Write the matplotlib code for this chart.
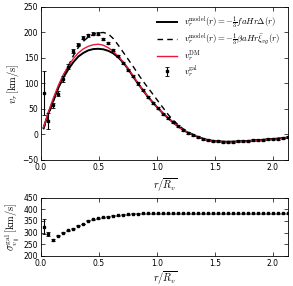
import matplotlib
matplotlib.use('Agg')
from matplotlib import pyplot as plt

plt.rcParams['mathtext.fontset'] = 'cm'
plt.rcParams['font.size'] = 5.5

# radial bins r / R_v
r = [0.0215, 0.0645, 0.1075, 0.1505, 0.1935, 0.2365, 0.2795, 0.3225, 0.3655, 0.4085,
     0.4515, 0.4945, 0.5375, 0.5805, 0.6235, 0.6665, 0.7095, 0.7525, 0.7955, 0.8385,
     0.8815, 0.9245, 0.9675, 1.0105, 1.0535, 1.0965, 1.1395, 1.1825, 1.2255, 1.2685,
     1.3115, 1.3545, 1.3975, 1.4405, 1.4835, 1.5265, 1.5695, 1.6125, 1.6555, 1.6985,
     1.7415, 1.7845, 1.8275, 1.8705, 1.9135, 1.9565, 1.9995, 2.0425, 2.0855, 2.1285]

# galaxy radial velocity and error (km/s)
v_gal = [82, 27, 57, 80, 109, 133, 164, 176, 190, 195,
         198, 198, 187, 179, 166, 153, 141, 127, 114, 100,
         87, 74, 62, 52, 41, 32, 24, 16, 8.5, 3,
         -1, -4.5, -8.5, -11, -12.5, -13.7, -14, -14, -14, -13.7,
         -13, -12.4, -11.7, -11, -10, -9, -8.5, -8, -7, -5.5]
v_gal_err = [43, 16, 5, 5, 6, 5, 4, 3, 3, 3,
             3, 2, 2, 2, 2, 2, 2, 2, 2, 2,
             2, 2, 2, 2, 2, 2, 2, 2, 2, 2,
             2, 2, 2, 2, 2, 2, 2, 2, 2, 2,
             2, 2, 2, 2, 2, 2, 2, 2, 2, 2]

# model curves
v_model_f = [13, 42, 68, 92, 112, 128, 142, 153, 160, 165,
             167.5, 168, 167, 164, 159, 151, 141, 128, 113, 99,
             86, 73, 62, 51, 41, 32, 23.5, 16, 9, 3.5,
             -1, -5, -8.5, -11, -12.5, -13.5, -14, -14.2, -14, -13.7,
             -13.2, -12.6, -12, -11.2, -10.4, -9.6, -8.8, -8, -7, -6]
v_model_beta = [10, 38, 65, 92, 115, 135, 155, 171, 183, 191,
                196, 199, 200, 197, 188, 175, 161, 147, 133, 118,
                104, 91, 78, 65, 52, 39, 28, 19, 11, 5,
                0, -4, -8, -11, -12.5, -13.5, -14, -14.2, -14, -13.7,
                -13.2, -12.6, -12, -11.2, -10.4, -9.6, -8.8, -8, -7, -6]
v_dm = [14, 45, 72, 97, 118, 134, 149, 160, 168, 173,
        176, 177, 175, 170, 163, 153, 142, 129, 114, 100,
        86, 73, 62, 51, 41, 32, 23.5, 16, 9, 3.5,
        -1, -5, -8.5, -11, -12.5, -13.5, -14, -14.2, -14, -13.7,
        -13.2, -12.6, -12, -11.2, -10.4, -9.6, -8.8, -8, -7, -6]

# galaxy velocity dispersion along line of sight (km/s)
sigma_gal = [326, 294, 269, 286, 300, 311, 317, 330, 337, 351,
             357, 361, 366, 369, 372, 374, 377, 378, 380, 381,
             382, 382, 383, 383, 383, 383, 383, 383, 383, 383,
             383, 383, 383, 383, 382, 382, 382, 382, 383, 382,
             382, 382, 382, 382, 382, 383, 383, 382, 382, 382]
sigma_err = [32, 10, 3, 2, 2, 2, 2, 2, 2, 2,
             2, 2, 2, 2, 2, 2, 2, 2, 2, 2,
             2, 2, 2, 2, 2, 2, 2, 2, 2, 2,
             2, 2, 2, 2, 2, 2, 2, 2, 2, 2,
             2, 2, 2, 2, 2, 2, 2, 2, 2, 2]

fig = plt.figure(figsize=(2.93, 2.86), dpi=100)
ax1 = fig.add_axes([0.140, 0.4406, 0.843, 0.535])
ax2 = fig.add_axes([0.140, 0.105, 0.843, 0.204])

ax1.plot(r, v_model_f, '-', color='black', lw=1.4,
         label=r'$v_r^{\rm model}(r) = -\frac{1}{3}faHr\Delta(r)$')
ax1.plot(r, v_model_beta, '--', color='black', lw=1.0, dashes=(4, 3),
         label=r'$v_r^{\rm model}(r) = -\frac{1}{3}\beta aHr\bar{\xi}_{vg}(r)$')
ax1.plot(r, v_dm, '-', color='#e8193c', lw=1.0, label=r'$v_r^{\rm DM}$')
ax1.errorbar(r, v_gal, yerr=v_gal_err, fmt='s', color='black', ms=1.8,
             elinewidth=0.8, capsize=1.3, capthick=0.6, label=r'$v_r^{\rm gal}$')

ax1.set_xlim(0, 2.13)
ax1.set_ylim(-50, 250)
ax1.set_yticks([-50, 0, 50, 100, 150, 200, 250])
ax1.set_ylabel(r'$v_r\,[\mathrm{km/s}]$', fontsize=7.5, labelpad=1)
ax1.set_xlabel(r'$r/\overline{R_v}$', fontsize=7.5, labelpad=3)
leg = ax1.legend(loc='upper right', fontsize=6.3, frameon=False,
                 handlelength=2.3, handletextpad=0.8, borderaxespad=0.5,
                 labelspacing=0.05)

ax2.errorbar(r, sigma_gal, yerr=sigma_err, fmt='s', color='black', ms=1.8,
             elinewidth=0.8, capsize=1.3, capthick=0.6)
ax2.set_xlim(0, 2.13)
ax2.set_ylim(200, 450)
ax2.set_yticks([200, 250, 300, 350, 400, 450])
ax2.set_ylabel(r'$\sigma^{\rm gal}_{v_\parallel}\,[\mathrm{km/s}]$', fontsize=7.5, labelpad=1)
ax2.set_xlabel(r'$r/\overline{R_v}$', fontsize=7.5, labelpad=1)

for ax in (ax1, ax2):
    ax.set_xticks([0.0, 0.5, 1.0, 1.5, 2.0])
    ax.tick_params(direction='in', top=True, right=True, length=3, width=0.5,
                   labelsize=5.5, pad=2)
    for s in ax.spines.values():
        s.set_linewidth(0.6)

fig.savefig('out.png', dpi=100)
